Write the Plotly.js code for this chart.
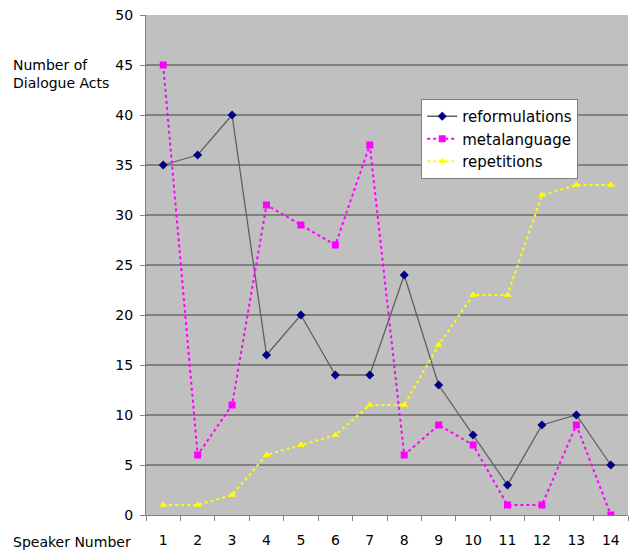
<!DOCTYPE html>
<html><head><meta charset="utf-8">
<script src="https://cdn.plot.ly/plotly-3.0.1.min.js"></script>
<style>html,body{margin:0;padding:0;background:#fff;}#chart{width:630px;height:554px;}</style>
</head><body><div id="chart"></div>
<script>
var speakers = ["1","2","3","4","5","6","7","8","9","10","11","12","13","14"];
var reformulations = [35,36,40,16,20,14,14,24,13,8,3,9,10,5];
var metalanguage = [45,6,11,31,29,27,37,6,9,7,1,1,9,0];
var repetitions = [1,1,2,6,7,8,11,11,17,22,22,32,33,33];

var traces = [
  {x: speakers, y: reformulations, name: 'reformulations', legendgroup: 'a', type: 'scatter', mode: 'lines+markers',
   line: {color: '#606060', width: 1.3}, marker: {symbol: 'diamond', color: '#000080', size: 7}},
  {x: speakers, y: metalanguage, name: 'metalanguage', legendgroup: 'b', type: 'scatter', mode: 'lines+markers',
   line: {color: '#ff00ff', width: 2, dash: 'dot'}, marker: {symbol: 'square', color: '#ff00ff', size: 7}},
  {x: speakers, y: repetitions, name: 'repetitions', legendgroup: 'c', type: 'scatter', mode: 'lines+markers',
   line: {color: '#ffff00', width: 2, dash: 'dot'}, marker: {symbol: 'triangle-up', color: '#ffff00', size: 7}}
];

var layout = {
  width: 630, height: 554,
  margin: {l: 146, r: 2, t: 15, b: 39},
  paper_bgcolor: '#ffffff', plot_bgcolor: '#c0c0c0',
  font: {family: 'DejaVu Sans, sans-serif', size: 13, color: '#000'},
  showlegend: true,
  legend: {x: 0.571, y: 0.832, xanchor: 'left', yanchor: 'top', bgcolor: '#ffffff',
           bordercolor: '#808080', borderwidth: 1, font: {size: 15, color: '#000'},
           itemwidth: 30, tracegroupgap: 0},
  xaxis: {type: 'category', range: [-0.5, 13.5], showgrid: false, zeroline: false,
          showline: true, linecolor: '#808080', linewidth: 1,
          ticks: 'outside', tickson: 'boundaries', ticklen: 5, tickcolor: '#808080',
          tickfont: {size: 14}, ticklabelstandoff: 12, fixedrange: true},
  yaxis: {range: [0, 50], dtick: 5, showgrid: true, gridcolor: '#808080', gridwidth: 1.5,
          zeroline: false, showline: true, linecolor: '#808080', linewidth: 1,
          ticks: 'outside', ticklen: 5, tickcolor: '#808080', tickfont: {size: 14},
          ticklabelstandoff: 4},
  annotations: [
    {text: 'Number of<br>Dialogue Acts', xref: 'paper', yref: 'paper', x: -0.28, y: 0.882,
     xanchor: 'left', yanchor: 'middle', showarrow: false, align: 'left', font: {size: 14}},
    {text: 'Speaker Number', xref: 'paper', yref: 'paper', x: -0.28, y: -0.054,
     xanchor: 'left', yanchor: 'middle', showarrow: false, align: 'left', font: {size: 14}}
  ]
};
Plotly.newPlot('chart', traces, layout, {displayModeBar: false, staticPlot: true});
</script></body></html>
